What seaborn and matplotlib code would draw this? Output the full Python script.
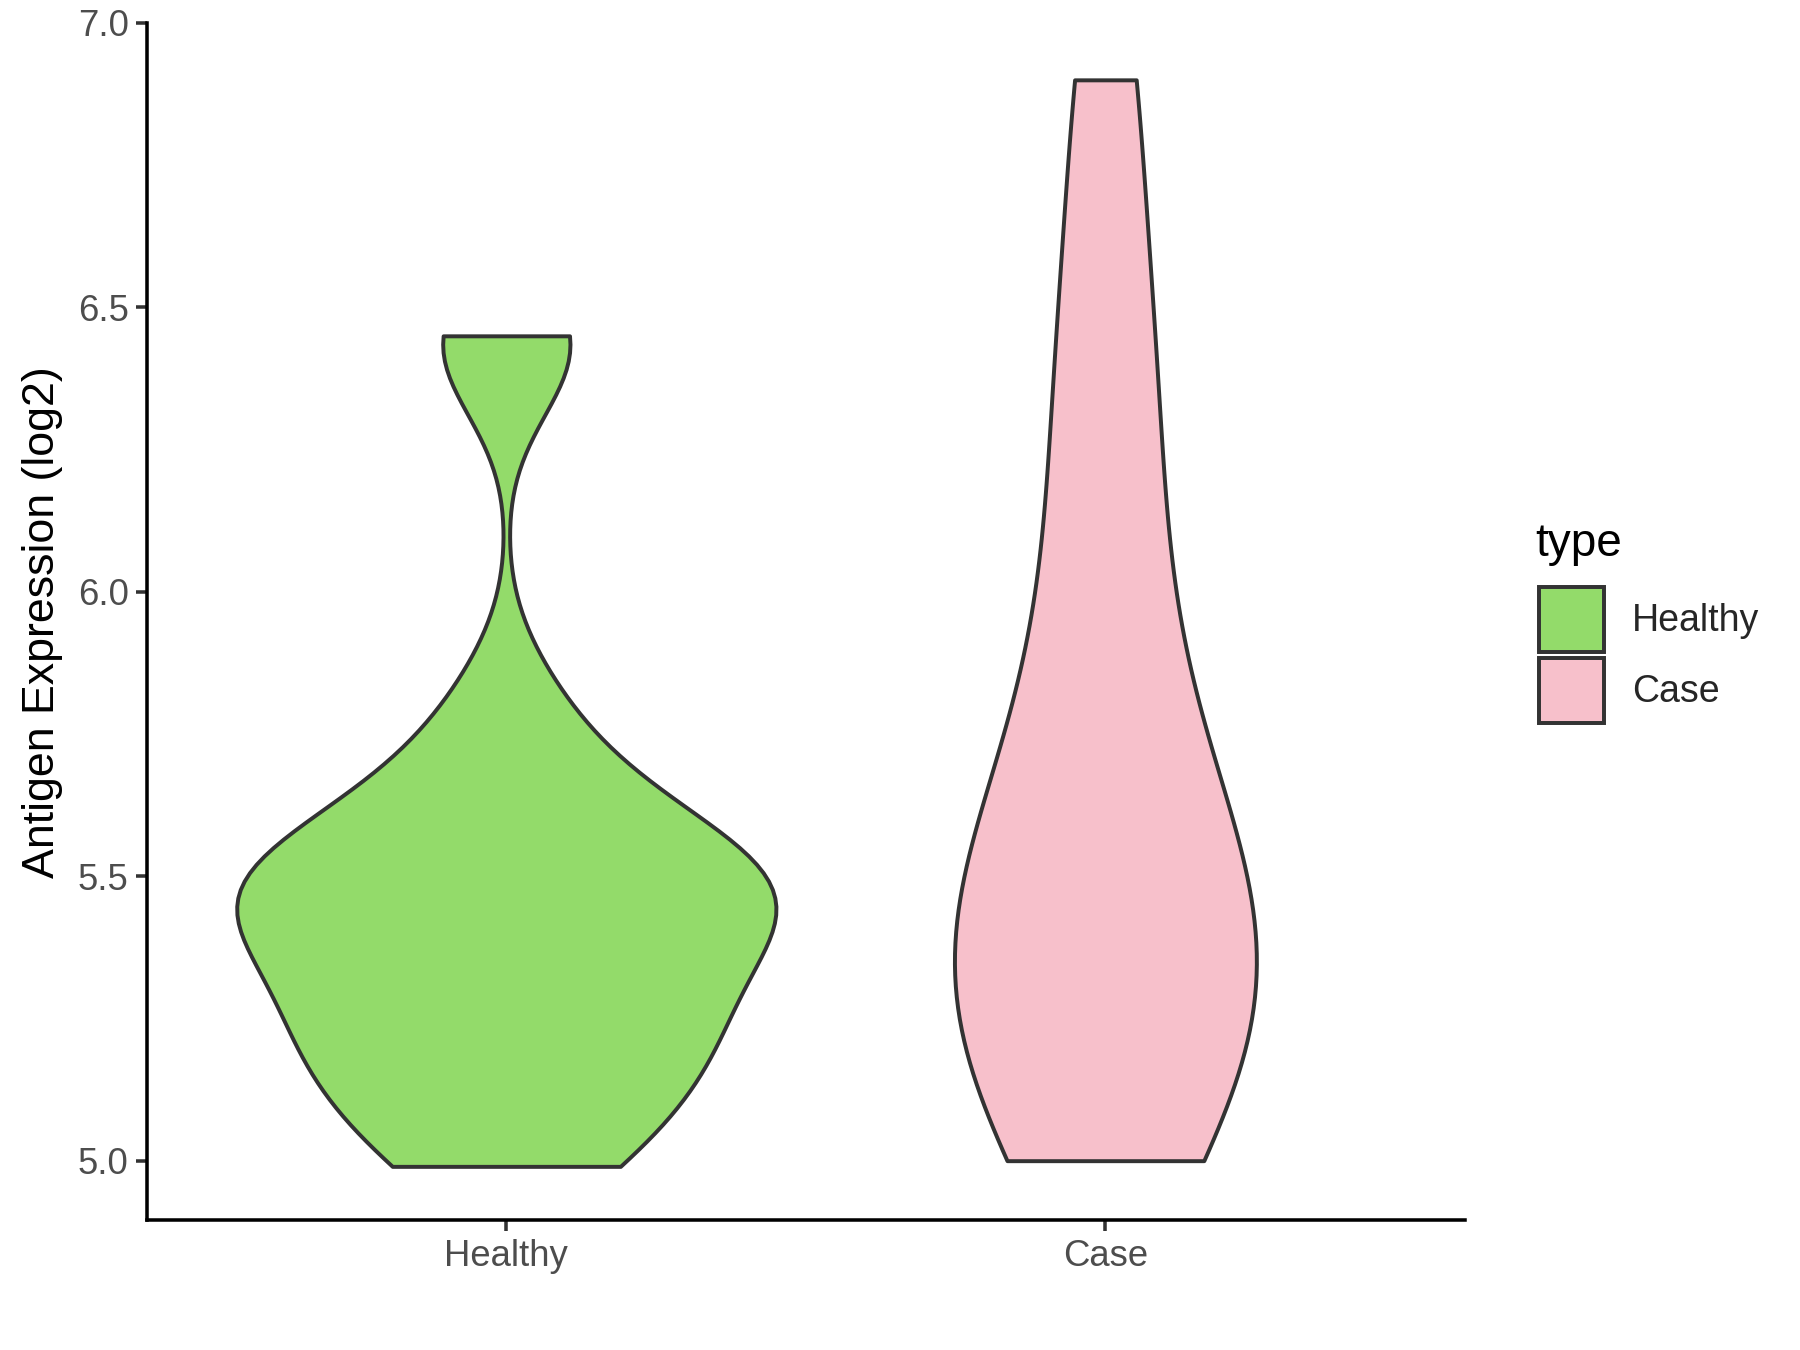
import matplotlib
matplotlib.use("Agg")
import matplotlib.pyplot as plt
from matplotlib.patches import Patch
import seaborn as sns
import pandas as pd
import numpy as np

# --- data (log2 antigen expression per sample) ---
healthy_vals = [4.99, 5.02, 5.10, 5.15, 5.20, 5.23, 5.27, 5.32, 5.38, 5.42,
                5.45, 5.47, 5.49, 5.51, 5.54, 5.60, 5.67, 5.80, 6.42, 6.45]
case_vals = [5.00, 5.10, 5.19, 5.27, 5.34, 5.41, 5.49, 5.57, 5.74, 5.97,
             6.24, 6.50, 6.90]
groups = ["Healthy", "Case"]
colors = {"Healthy": "#93DB6A", "Case": "#F7C0CB"}
y_ticks = [5.0, 5.5, 6.0, 6.5, 7.0]

df = pd.DataFrame({
    "type": ["Healthy"] * len(healthy_vals) + ["Case"] * len(case_vals),
    "value": healthy_vals + case_vals,
})


def nrd0(kde):
    # Silverman's rule of thumb (R's bw.nrd0), returned as a factor of the sd
    x = kde.dataset[0]
    sd = x.std(ddof=1)
    q75, q25 = np.percentile(x, [75, 25])
    lo = min(sd, (q75 - q25) / 1.34)
    return 0.9 * lo * len(x) ** -0.2 / sd


sns.set_theme(style="ticks")
plt.rcParams["font.family"] = ["Liberation Sans", "DejaVu Sans"]

fig = plt.figure(figsize=(12, 9), dpi=150)
ax = fig.add_axes([0.0816, 0.096, 0.7322, 0.887])

# common_norm so widths follow ggplot's scale="area"
sns.violinplot(data=df, x="type", y="value", hue="type", order=groups,
               hue_order=groups, palette=colors, saturation=1, cut=0,
               inner=None, width=0.9, bw_method=nrd0, linewidth=1.9,
               linecolor="#333333", density_norm="area", common_norm=True,
               legend=False, ax=ax)

ax.set_xlim(-0.6, 1.6)
ax.set_ylim(4.895, 7.0)
ax.set_yticks(y_ticks)
ax.set_yticklabels([f"{t:.1f}" for t in y_ticks])
ax.set_xlabel("")
ax.set_ylabel("Antigen Expression (log2)", fontsize=21.5, color="black", labelpad=7)
ax.tick_params(axis="both", labelsize=17.5, labelcolor="#4D4D4D", color="#333333",
               length=5.3, width=1.7, direction="out")
for s in ["top", "right"]:
    ax.spines[s].set_visible(False)
for s in ["left", "bottom"]:
    ax.spines[s].set_linewidth(1.7)
    ax.spines[s].set_color("black")

# legend (ggplot style, title drawn separately for the gap)
handles = [Patch(facecolor=colors[g], edgecolor="#333333", linewidth=1.9, label=g)
           for g in groups]
fig.legend(handles=handles, loc="upper left", bbox_to_anchor=(0.836, 0.5905),
           frameon=False, fontsize=18, handlelength=1.75, handleheight=2.3,
           labelspacing=0.16, handletextpad=0.75)
fig.text(0.853, 0.588, "type", fontsize=22, color="black", ha="left", va="baseline")

fig.savefig("out.png", dpi=150, facecolor="white")
